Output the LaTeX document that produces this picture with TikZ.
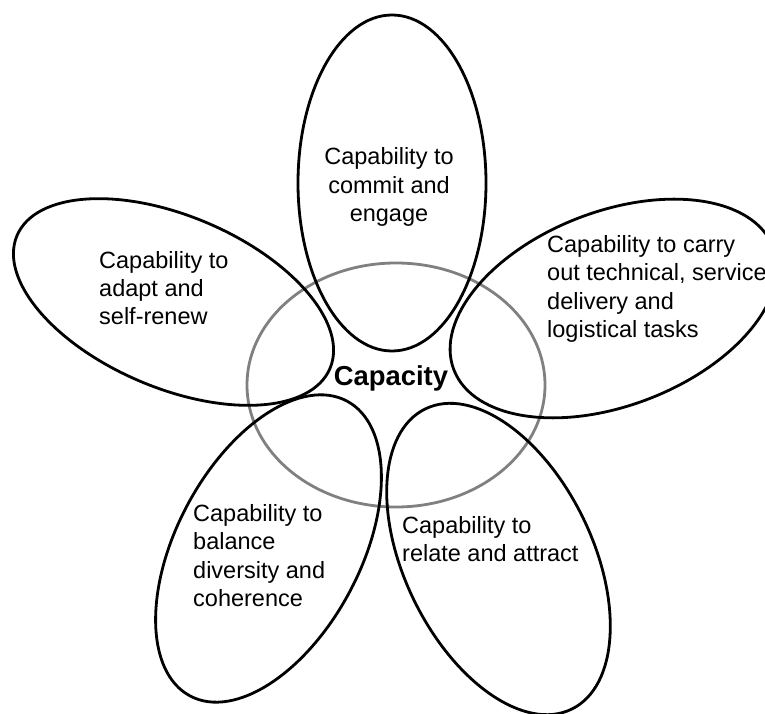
\documentclass[tikz,border=0pt]{standalone}
\usepackage{fontspec}
\setmainfont{Liberation Sans}
\usepackage{xcolor}
\usepackage{tikz}
\usetikzlibrary{shapes.geometric}
\tikzstyle{core} = [ellipse, draw=gray, line width=2.8pt, inner sep=0pt, minimum width=298pt, minimum height=244pt]
\tikzstyle{petal} = [ellipse, draw=black, line width=2.8pt, inner sep=0pt]
\tikzstyle{petaltext} = [inner sep=0pt, font=\fontsize{23.5}{28.3}\selectfont]

\begin{document}
\begin{tikzpicture}[x=1pt, y=1pt]
    \useasboundingbox (0,0) rectangle (765,713);
    % Centre ellipse
    \node (core) [core] at (396,328) {};
    % Petals
    \node (commit) [petal, minimum width=188pt, minimum height=336pt] at (392,530) {};
    \node (adapt) [petal, minimum width=340pt, minimum height=172pt, rotate=-23] at (173.5,411) {};
    \node (tasks) [petal, minimum width=342pt, minimum height=194pt, rotate=21] at (613.5,404.5) {};
    \node (balance) [petal, minimum width=184pt, minimum height=334pt, rotate=-28] at (268.5,164.5) {};
    \node (relate) [petal, minimum width=188pt, minimum height=334pt, rotate=26] at (498.5,154) {};

    % Labels
    \node (capacity) [font=\bfseries\fontsize{27.4}{32}\selectfont, inner sep=0pt] at (391,335) {Capacity};
    \node (committext) [petaltext, align=center] at (389,526) {Capability to\\commit and\\engage};
    \node (adapttext) [petaltext, align=left, anchor=west] at (99,425) {Capability to\\adapt and\\self-renew};
    \node (taskstext) [petaltext, align=left, anchor=west] at (547,424) {Capability to carry\\out technical, service\\delivery and\\logistical tasks};
    \node (balancetext) [petaltext, align=left, anchor=west] at (193,157.5) {Capability to\\balance\\diversity and\\coherence};
    \node (relatetext) [petaltext, align=left, anchor=west] at (402,174) {Capability to\\relate and attract};
\end{tikzpicture}
\end{document}
